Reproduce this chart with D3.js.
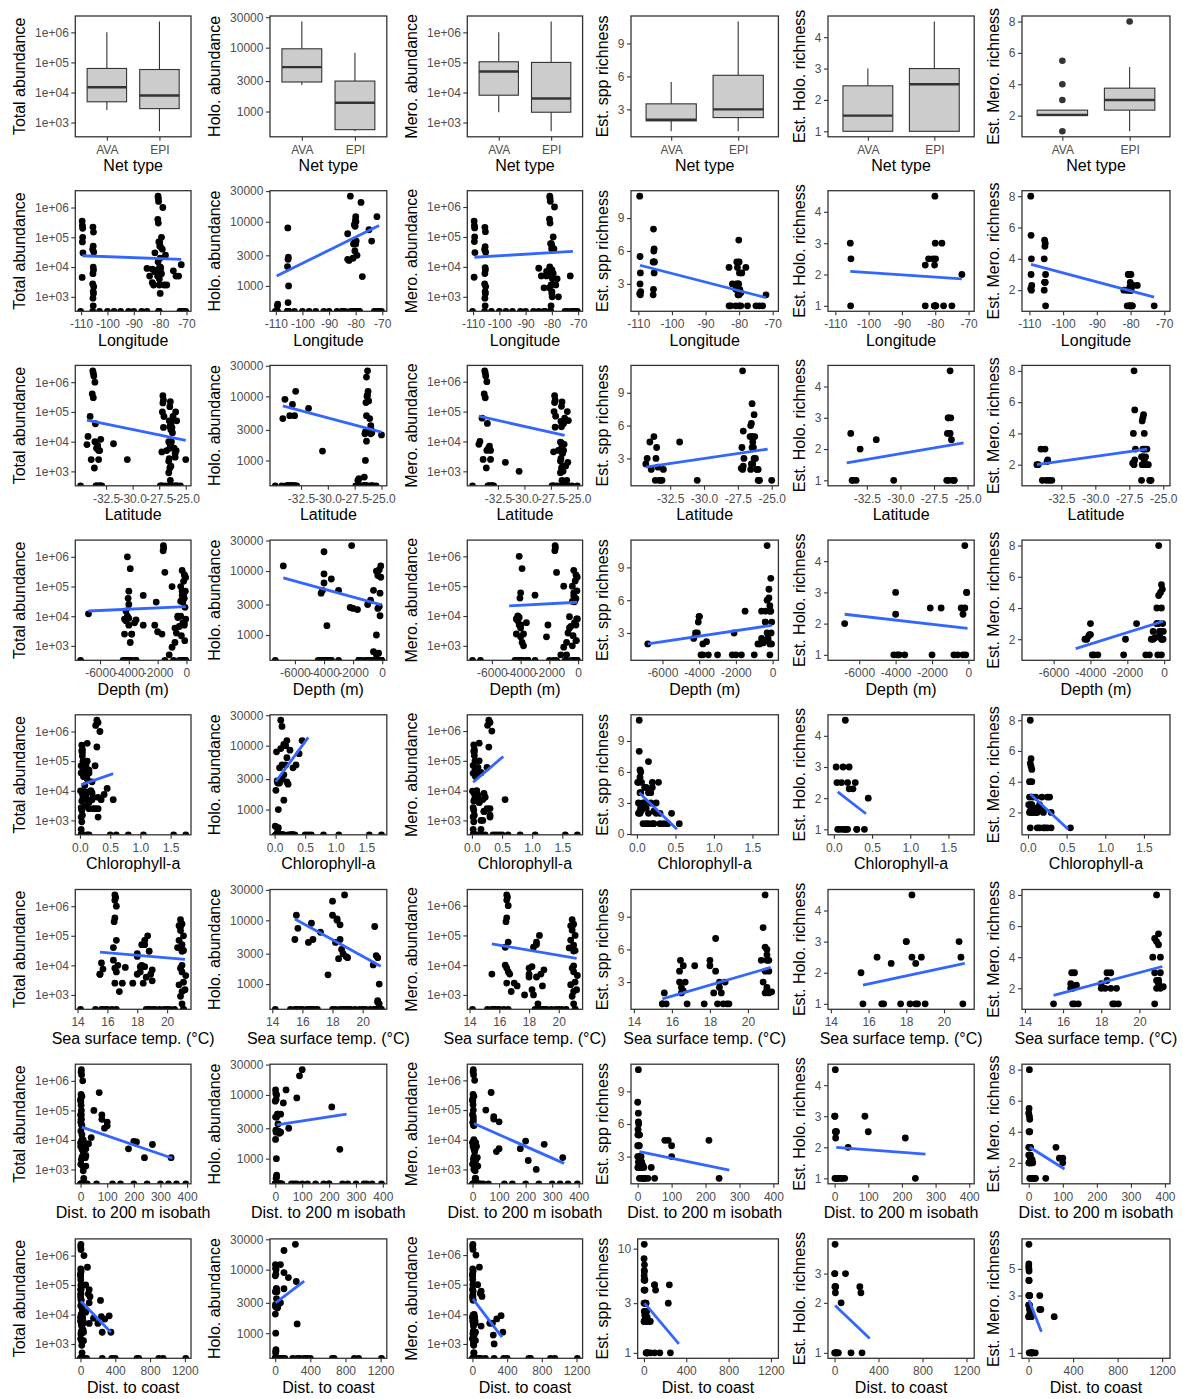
<!DOCTYPE html>
<html><head><meta charset="utf-8">
<script src="https://cdn.jsdelivr.net/npm/d3@7"></script>
<style>body{margin:0;background:#fff}</style>
</head><body><svg id="chart" width="1183" height="1399"></svg>
<script>
// ---------------- DATA ----------------
// station fields
const fields = ["lon","lat","depth","chl","sst","d200","dcoast","total","holo","mero","spp","holoR","meroR"];

const easterIsland = [
[-109.6,-27.15,-300,0.03,20.9,2,3,3.5e5,0,3.4e5,11,null,8],
[-109.5,-27.10,-150,0.04,21.0,1,2,2.5e5,0,2.4e5,5.5,null,5.5],
[-109.4,-27.20,-400,0.05,21.1,3,5,1.0e5,490,1.0e5,4,null,4],
[-109.5,-27.05,-80,0.02,20.8,0,1,7.0e4,0,7.0e4,3,null,3],
[-109.3,-27.10,-250,0.06,21.0,5,8,3.0e4,520,3.0e4,2.3,null,2.3],
[-109.6,-27.25,-500,0.03,21.25,8,10,4.5e3,0,4.5e3,2.1,null,2.1],
[-109.4,-27.15,-60,0.04,20.9,1,2,2.0e5,0,2.0e5,2,null,2],
[-110.2,-27.30,-900,0.02,21.1,15,20,0,0,0,null,null,null]
];
const salasGomez = [
[-105.5,-26.45,-100,0.03,20.8,0,1,2.2e5,8000,2.1e5,8,3,5.2],
[-105.3,-26.50,-200,0.04,20.9,2,3,1.5e5,2800,1.5e5,6.2,2.5,5],
[-105.4,-26.55,-300,0.05,21.0,3,4,5.0e4,2600,4.7e4,6,1,4.8],
[-105.6,-26.40,-150,0.02,20.7,1,2,4.0e4,2000,3.8e4,5,null,4],
[-105.2,-26.50,-400,0.06,21.1,4,6,3.2e4,1000,3.1e4,5,null,3],
[-105.4,-26.60,-600,0.01,21.0,5,8,1.0e4,550,9.5e3,5,null,2.5],
[-105.3,-26.45,-50,0.04,20.9,0,1,8.0e3,0,8.0e3,4,null,2.5],
[-105.5,-26.50,-250,0.05,21.0,2,3,6.0e3,0,6.0e3,2.5,null,2.5],
[-105.6,-26.55,-700,0.02,21.1,6,9,2.7e3,0,2.7e3,2,null,2],
[-105.2,-26.60,-350,0.03,20.8,3,5,2.2e3,0,2.2e3,null,null,1],
[-105.4,-26.40,-120,0.04,21.2,1,2,1.5e3,0,1.5e3,null,null,null],
[-105.3,-26.50,-800,0.02,21.0,8,12,1.3e3,0,1.3e3,null,null,null],
[-105.5,-26.60,-1000,0.03,20.9,10,15,900,0,900,null,null,null],
[-105.4,-26.45,-1200,0.02,21.0,12,18,500,0,500,null,null,null],
[-105.6,-26.50,-1500,0.03,21.1,20,30,0,0,0,null,null,null]
];
const juanFernandez = [
[-80.8,-33.75,-1600,0.28,16.5,3,5,2.4e6,0,2.3e6,null,null,null],
[-80.7,-33.70,-1580,0.30,16.55,2,3,2.0e6,0,1.95e6,null,null,null],
[-80.6,-33.65,-1620,0.26,16.5,4,6,1.6e6,0,1.55e6,null,null,null],
[-79.0,-33.55,-4100,0.33,16.6,8,40,1.0e6,0,1.0e6,null,null,null],
[-80.9,-33.80,-3900,0.12,16.5,70,80,4.0e5,0,3.9e5,null,null,null],
[-80.7,-33.70,-1500,0.28,16.45,5,8,3.0e5,0,2.9e5,5,2.5,3],
[-80.5,-34.00,-4000,0.10,16.6,80,100,7.0e4,9000,6.0e4,4.5,null,3],
[-79.2,-33.50,-4050,0.15,16.4,100,110,4.0e4,0,4.0e4,4,null,2.3],
[-80.2,-33.55,-4100,0.18,16.7,10,15,1.0e4,5000,5.0e3,3,1,2.2],
[-80.8,-34.20,-4200,0.08,16.4,5,20,1.5e4,4500,1.0e4,3,null,2],
[-81.0,-34.30,-4300,0.05,16.5,12,25,8.0e3,0,8.0e3,2.5,null,2],
[-79.5,-33.40,-3600,0.22,16.6,15,30,6.0e3,0,6.0e3,2.2,null,1],
[-80.3,-33.90,-3800,0.25,16.5,18,35,2.5e3,0,2.5e3,2,null,1],
[-80.0,-33.60,-3900,0.30,16.8,20,35,1.3e3,0,1.3e3,1,1,1],
[-80.4,-34.90,-4400,0.12,16.3,25,40,0,0,0,null,null,null],
[-80.6,-33.45,-500,0.50,16.6,1,2,0,0,0,null,null,null]
];
const desventuradas = [
[-82.0,-26.30,-2100,0.10,18.8,100,230,3.0e4,25000,5.0e3,3,2.5,2],
[-78.0,-26.40,-4000,0.12,18.0,90,100,2.5e4,20000,4.0e3,4.5,3,2.3],
[-80.1,-26.30,-200,0.15,18.3,2,5,5.0e4,10500,4.0e4,7,4.5,2.5],
[-80.0,-26.25,-100,0.20,18.0,1,3,2.0e4,12000,8.0e3,5,3,2],
[-79.9,-26.35,-400,0.18,18.3,5,10,1.0e4,10000,1.0e3,4,2.5,3],
[-80.2,-26.20,-300,0.25,18.5,3,8,7.0e4,8500,6.0e4,3,2.3,3],
[-79.8,-26.40,-600,0.12,18.5,8,12,9.0e3,5000,4.0e3,2.5,1,2],
[-80.0,-26.10,-150,0.30,18.2,1,2,6.0e3,4500,1.5e3,2,1,2],
[-80.3,-26.00,-800,0.15,18.6,10,15,4.0e3,3500,500,2,1,1],
[-81.0,-25.90,-2200,0.20,18.9,12,20,5.0e3,2700,2.0e3,1,null,1],
[-82.5,-25.00,-1700,0.22,18.4,15,25,2.5e3,2500,0,1,null,null],
[-83.0,-26.00,-2000,0.08,19.0,20,30,3.0e3,2600,0,1,1,null],
[-79.5,-25.95,-1000,0.12,18.7,50,60,1.0e5,3000,1.0e5,1,null,1],
[-80.0,-25.85,-3000,0.10,18.5,80,90,5.0e4,0,5.0e4,null,null,null],
[-80.5,-25.90,-3500,0.15,18.6,60,70,0,0,0,null,null,null]
];
const midLatitude = [
[-83.0,-31.8,-4000,0.20,17.2,210,240,8.5e3,6500,2.0e3,4.5,2.3,null],
[-77.5,-30.5,-3800,0.15,17.7,240,250,2.5e3,1400,1.0e3,1,1,null],
[-82.0,-33.3,-4200,0.10,19.0,270,280,7.0e3,0,7.0e3,null,null,null],
[-78.5,-33.2,-4300,0.30,17.0,340,350,2.5e3,0,2.5e3,null,null,null],
[-84.0,-26.8,-4000,0.12,18.0,180,200,5.0e3,0,5.0e3,null,null,null],
[-85.0,-26.5,-4100,0.08,18.2,200,330,9.0e3,0,9.0e3,null,null,null]
];
const coastal = [
[-72.0,-33.00,-6800,0.45,15.6,40,60,1.2e4,12000,0,2,2,null],
[-73.0,-33.20,-150,0.55,15.5,5,30,5.0e3,0,5.0e3,1,null,1],
[-74.0,-33.10,-3000,0.35,15.5,20,100,5.0e3,5000,0,1,null,null],
[-75.0,-33.30,-3500,0.40,15.7,30,150,7.5e3,7500,0,1,1,null],
[-70.3,-32.90,-50,1.75,14.2,0,2,0,0,0,null,null,null],
[-71.0,-33.00,-80,1.55,15.2,2,5,0,0,0,null,null,null],
[-72.5,-33.10,-300,1.05,15.6,4,8,0,0,0,null,null,null],
[-72.2,-33.20,-200,0.80,16.0,6,10,0,0,0,null,null,null],
[-71.6,-33.40,-100,0.60,15.8,3,6,0,0,0,null,null,null]
];
const oceanic = [
[-103.0,-27.2,-3500,0.03,20.5,150,250,0,0,0,null,null,null],
[-100.0,-26.9,-3800,0.02,20.2,250,400,0,0,0,null,null,null],
[-97.5,-26.6,-4000,0.03,20.0,395,650,0,0,0,null,null,null],
[-95.0,-26.2,-4200,0.02,19.8,360,900,0,0,0,null,null,null],
[-92.0,-25.8,-4100,0.04,19.5,330,950,0,0,0,null,null,null],
[-90.0,-25.5,-4300,0.03,19.2,300,1210,0,0,0,null,null,null],
[-87.0,-27.4,-4000,0.05,19.0,200,670,0,0,0,null,null,null],
[-85.0,-26.0,-7350,0.06,18.8,120,360,0,0,0,null,null,null]
];

// boxplot statistics [lower whisker, Q1, median, Q3, upper whisker] for AVA and EPI
const netTypes = ["AVA","EPI"];
const boxTotal = [[2600,4900,15000,63000,1.0e6],[510,2900,7900,58000,2.3e6]];
const boxHolo  = [[2600,2900,4950,9600,25700],[490,520,1370,3000,8300]];
const boxMero  = [[2200,8100,5.0e4,1.05e5,1.0e6],[510,2200,6300,1.0e5,2.3e6]];
const boxSpp   = [[1,1.95,2.05,3.5,5.5],[1,2.25,3,6.1,11]];
const boxHoloR = [[1,1,1.5,2.45,3],[1,1,2.5,3,4.5]];
const boxMeroR = [[2,2,2.05,2.35,2.35],[1,2.35,3,3.75,5.1]];
const outliersMeroR = [[5.5,4,3,1],[8]];

// regression lines [x1, y1, x2, y2] for each response
const fitLongitude = [[-109.5,2.4e4,-72,1.8e4],[-109.7,1430,-71.2,8700],[-109.5,2.1e4,-72,3.3e4],[-109.5,4.7,-72,1.75],[-105.5,2.1,-72,1.86],[-109.5,3.64,-73,1.55]];
const fitLatitude  = [[-34.3,5.3e4,-25.0,1.1e4],[-34.2,7100,-25.0,2760],[-34.3,7e4,-26.2,1.6e4],[-34.3,2.2,-25.3,3.85],[-34.0,1.56,-25.3,2.2],[-34.3,2.0,-26.2,3.0]];
const fitDepth     = [[-6800,1.5e4,-50,2.1e4],[-6800,7800,-50,2950],[-4800,2.2e4,-50,2.9e4],[-6800,2.0,-50,3.7],[-6800,2.3,-50,1.85],[-4800,1.4,-50,3.15]];
const fitChl       = [[0.02,1.6e4,0.55,3.8e4],[0.02,2750,0.55,13500],[0.02,1.9e4,0.52,1.4e5],[0.03,4.0,0.52,0.45],[0.05,2.2,0.42,1.5],[0.03,3.2,0.52,0.9]];
const fitSst       = [[15.5,2.8e4,21.2,1.6e4],[15.5,10500,21.2,1900],[15.5,5.2e4,21.2,1.7e4],[15.5,1.45,21.2,4.35],[15.7,1.6,21.1,2.3],[15.5,1.55,21.2,3.4]];
const fitDist200   = [[5,2.7e4,345,2.4e3],[5,3400,265,5000],[5,3.5e4,345,1.6e3],[5,3.45,270,1.75],[5,2.0,270,1.78],[3,3.0,105,1.6]];
const fitCoast     = [[5,2.8e4,350,2.5e3],[5,3000,330,6600],[5,3.3e4,340,1.7e3],[5,3.0,330,1.22],[5,1.93,320,1.22],[3,2.75,115,1.5]];

// tick values
const ticksAbund = [1e3,1e4,1e5,1e6];
const ticksHolo = [1000,3000,10000,30000];
const ticksSpp = [0,3,6,9];
const ticksHoloR = [1,2,3,4];
const ticksMeroR = [0,2,4,6,8];
const ticksSppLog = [1,3,10];
const ticksHoloRLog = [1,2,3];
const ticksMeroRLog = [1,3,5];
const ticksLon = [-110,-100,-90,-80,-70];
const ticksLat = [-32.5,-30,-27.5,-25];
const ticksDepth = [-6000,-4000,-2000,0];
const ticksChl = [0,0.5,1,1.5];
const ticksSst = [14,16,18,20];
const ticksD200 = [0,100,200,300,400];
const ticksCoast = [0,400,800,1200];

const yTitles = ["Total abundance","Holo. abundance","Mero. abundance","Est. spp richness","Est. Holo. richness","Est. Mero. richness"];
const xTitles = ["Net type","Longitude","Latitude","Depth (m)","Chlorophyll-a","Sea surface temp. (°C)","Dist. to 200 m isobath","Dist. to coast"];

// ---------------- DRAWING ----------------
const stations = [easterIsland, salasGomez, juanFernandez, desventuradas, midLatitude, coastal, oceanic]
  .flat().map(r => Object.fromEntries(fields.map((f,i)=>[f,r[i]])));

const yVars = ["total","holo","mero","spp","holoR","meroR"];
const yIsLog = [true,true,true,false,false,false];
const yTickSets = [ticksAbund,ticksHolo,ticksAbund,ticksSpp,ticksHoloR,ticksMeroR];
const yTickSetsLog = [ticksAbund,ticksHolo,ticksAbund,ticksSppLog,ticksHoloRLog,ticksMeroRLog];
const xVars = [null,"lon","lat","depth","chl","sst","d200","dcoast"];
const xTickSets = [null,ticksLon,ticksLat,ticksDepth,ticksChl,ticksSst,ticksD200,ticksCoast];
const xFormats = [null, d=>String(d), d=>d.toFixed(1), d=>String(d), d=>d.toFixed(1), d=>String(d), d=>String(d), d=>String(d)];
const fitsByRow = [null,fitLongitude,fitLatitude,fitDepth,fitChl,fitSst,fitDist200,fitCoast];
const boxesByCol = [boxTotal,boxHolo,boxMero,boxSpp,boxHoloR,boxMeroR];
const outliersByCol = [[[],[]],[[],[]],[[],[]],[[],[]],[[],[]],outliersMeroR];

const FONT = "'Liberation Sans', Arial, Helvetica, sans-serif";
const cellStart = [-0.4, 194.6, 391.6, 582.3, 779.3, 973.3];
const svg = d3.select("#chart");
const defs = svg.append("defs");

const abundFmt = d => "1e+" + String(Math.round(Math.log10(d))).padStart(2,"0");

function expand(ext){ const p=(ext[1]-ext[0])*0.05; return [ext[0]-p, ext[1]+p]; }

for (let r=0; r<8; r++){
  for (let c=0; c<6; c++){
    const top = 16 + 174.7*r, bottom = 136.8 + 174.5*r;
    const right = 191 + 195.8*c;
    const isLog = r===7 ? true : yIsLog[c];
    const g = svg.append("g");

    // y domain
    let yVals;
    if (r===0){
      yVals = boxesByCol[c].flat().concat(outliersByCol[c].flat());
    } else {
      yVals = stations.map(s=>s[yVars[c]]).filter(v=>v!=null && (!isLog || v>0));
      const f = fitsByRow[r][c]; yVals.push(f[1], f[3]);
    }
    const tf = isLog ? Math.log10 : (v=>v);
    const dom = expand(d3.extent(yVals.map(tf)));
    const y = isLog ? d3.scaleLog().domain(dom.map(v=>Math.pow(10,v))) : d3.scaleLinear().domain(dom);
    y.range([bottom, top]);

    const tickSet = (r===7 ? yTickSetsLog[c] : yTickSets[c]);
    const yd = y.domain();
    const tv = tickSet.filter(v => v>=yd[0] && v<=yd[1]);
    const yfmt = (c===0||c===2) ? abundFmt : (d=>String(d));

    const gy = g.append("g").call(d3.axisLeft(y).tickValues(tv).tickFormat(yfmt).tickSize(4).tickPadding(2.5));
    gy.select(".domain").remove();
    gy.selectAll("text").attr("fill","#4d4d4d").style("font-size","12px").style("font-family",FONT);
    gy.selectAll("line").attr("stroke","#333333").attr("stroke-width",1.1);
    const lw = d3.max(gy.selectAll("text").nodes(), n=>n.getComputedTextLength()) || 0;
    const left = cellStart[c] + 42 + lw;
    gy.attr("transform", `translate(${left},0)`);

    // clip
    const cid = `clip-${r}-${c}`;
    defs.append("clipPath").attr("id",cid).append("rect")
      .attr("x",left).attr("y",top).attr("width",right-left).attr("height",bottom-top);
    const plot = g.append("g").attr("clip-path",`url(#${cid})`);

    let xAxis;
    if (r===0){
      const x = d3.scalePoint().domain(netTypes).range([left,right]).padding(0.6);
      const bw = x.step()*0.75;
      netTypes.forEach((nt,i)=>{
        const b = boxesByCol[c][i];
        const cx = x(nt);
        plot.append("line").attr("x1",cx).attr("x2",cx).attr("y1",y(b[0])).attr("y2",y(b[1]))
          .attr("stroke","#333333").attr("stroke-width",1.1);
        plot.append("line").attr("x1",cx).attr("x2",cx).attr("y1",y(b[3])).attr("y2",y(b[4]))
          .attr("stroke","#333333").attr("stroke-width",1.1);
        plot.append("rect").attr("x",cx-bw/2).attr("width",bw).attr("y",y(b[3])).attr("height",y(b[1])-y(b[3]))
          .attr("fill","#cccccc").attr("stroke","#333333").attr("stroke-width",1.1);
        plot.append("line").attr("x1",cx-bw/2).attr("x2",cx+bw/2).attr("y1",y(b[2])).attr("y2",y(b[2]))
          .attr("stroke","#333333").attr("stroke-width",2.4);
        plot.selectAll(null).data(outliersByCol[c][i]).join("circle")
          .attr("cx",cx).attr("cy",d=>y(d)).attr("r",3.3).attr("fill","#333333");
      });
      xAxis = d3.axisBottom(x).tickSize(4).tickPadding(4.5);
    } else {
      const xv = xVars[r];
      const x = d3.scaleLinear().domain(expand(d3.extent(stations, s=>s[xv]))).range([left,right]);
      const pts = stations.filter(s => s[yVars[c]]!=null);
      plot.selectAll(null).data(pts).join("circle")
        .attr("cx", s=>x(s[xv]))
        .attr("cy", s=> (isLog && s[yVars[c]]<=0) ? bottom : y(s[yVars[c]]))
        .attr("r",3.4).attr("fill","#000");
      const f = fitsByRow[r][c];
      plot.append("line").attr("x1",x(f[0])).attr("y1",y(f[1])).attr("x2",x(f[2])).attr("y2",y(f[3]))
        .attr("stroke","#3366FF").attr("stroke-width",2.8).attr("stroke-linecap","butt");
      xAxis = d3.axisBottom(x).tickValues(xTickSets[r]).tickFormat(xFormats[r]).tickSize(4).tickPadding(4.5);
    }
    const gx = g.append("g").attr("transform",`translate(0,${bottom})`).call(xAxis);
    gx.select(".domain").remove();
    gx.selectAll("text").attr("fill","#4d4d4d").style("font-size","12px").style("font-family",FONT);
    gx.selectAll("line").attr("stroke","#333333").attr("stroke-width",1.1);

    // border
    g.append("rect").attr("x",left).attr("y",top).attr("width",right-left).attr("height",bottom-top)
      .attr("fill","none").attr("stroke","#333333").attr("stroke-width",1.3);

    // titles
    g.append("text").attr("x",(left+right)/2).attr("y",bottom+34.5).attr("text-anchor","middle")
      .style("font-size","16px").style("font-family",FONT).attr("fill","#000").text(xTitles[r]);
    const tx = left - lw - 16.5, ty = (top+bottom)/2;
    g.append("text").attr("transform",`translate(${tx},${ty}) rotate(-90)`).attr("text-anchor","middle")
      .style("font-size","16px").style("font-family",FONT).attr("fill","#000").text(yTitles[c]);
  }
}
</script></body></html>
